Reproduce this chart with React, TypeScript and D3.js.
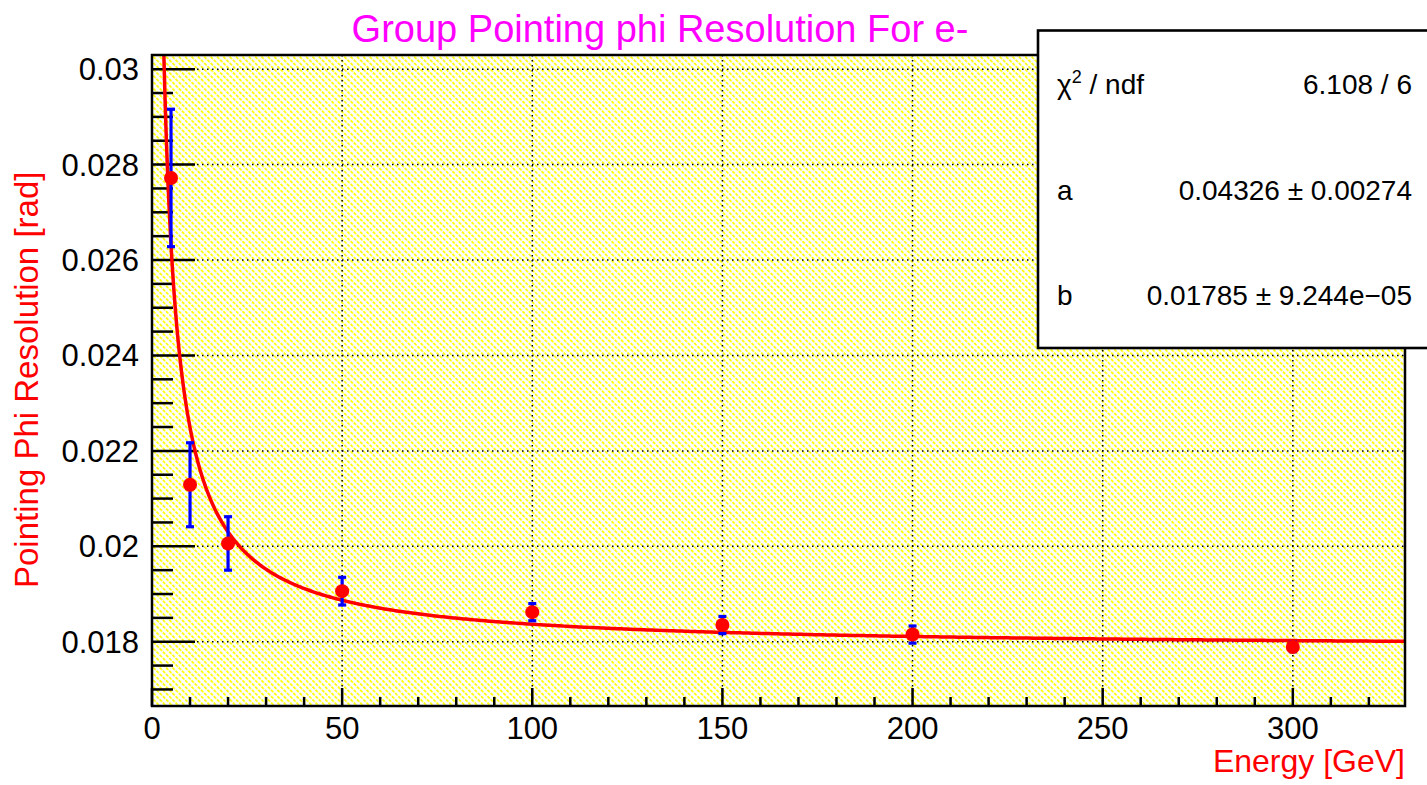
import React from "react";
import * as d3 from "d3";

// Measured pointing phi resolution for electrons vs beam energy
const energies = [5, 10, 20, 50, 100, 150, 200, 300];
const resolution = [0.02772, 0.02129, 0.02006, 0.01906, 0.01862, 0.01835, 0.01815, 0.01789];
const resolutionErr = [0.00144, 0.00088, 0.00056, 0.00029, 0.00018, 0.00018, 0.00018, 0.0001];

// Fit sigma(E) = sqrt(a^2/E + b^2)
const fitA = 0.04326;
const fitB = 0.01785;
const statRows = [
  { label: "chi2", value: "6.108 / 6" },
  { label: "a", value: "0.04326 \u00b1 0.00274" },
  { label: "b", value: "0.01785 \u00b1 9.244e\u221205" },
];

const xTickValues = [0, 50, 100, 150, 200, 250, 300];
const yTickValues = [0.018, 0.02, 0.022, 0.024, 0.026, 0.028, 0.03];
const yTickLabels = ["0.018", "0.02", "0.022", "0.024", "0.026", "0.028", "0.03"];

const W = 1427;
const H = 785;
const frame = { left: 152, right: 1405, top: 55, bottom: 706 };
const FONT = "'Liberation Sans', Arial, Helvetica, sans-serif";

export default function App() {
  // x range as the graph auto-range: 10% padding past the last point, floored at 0
  const xMin = d3.min(energies)!;
  const xMax = d3.max(energies)!;
  const xPad = 0.1 * (xMax - xMin);
  const xScale = d3
    .scaleLinear()
    .domain([Math.max(0, xMin - xPad), xMax + xPad])
    .range([frame.left, frame.right]);

  const lo = d3.min(resolution.map((v, i) => v - resolutionErr[i]))!;
  const hi = d3.max(resolution.map((v, i) => v + resolutionErr[i]))!;
  const yPad = 0.1 * (hi - lo);
  const yScale = d3
    .scaleLinear()
    .domain([lo - yPad, hi + yPad])
    .range([frame.bottom, frame.top]);

  const [, x1] = xScale.domain();
  const [y0, y1] = yScale.domain();

  const xMinor = d3.range(0, x1, 10).filter((v) => v % 50 !== 0);
  const yMinor = d3
    .range(0.0165, 0.031, 0.0005)
    .filter((v) => v >= y0 && v <= y1 && yTickValues.every((t) => Math.abs(t - v) > 1e-7));

  const fit = (e: number) => Math.sqrt((fitA * fitA) / e + fitB * fitB);
  const samples = d3.range(0, 600).map((i) => {
    const t = i / 599;
    return 0.6 + (x1 - 0.6) * Math.pow(t, 2);
  });
  const curve = d3
    .line<number>()
    .x((e) => xScale(e))
    .y((e) => yScale(fit(e)))(samples);

  const fw = frame.right - frame.left;
  const fh = frame.bottom - frame.top;

  return (
    <div style={{ position: "absolute", left: 0, top: 0 }}>
      <svg width={W} height={H} style={{ display: "block", background: "#fff" }}>
        <defs>
          <pattern
            id="hatch"
            width="4.5"
            height="4.5"
            patternUnits="userSpaceOnUse"
            patternTransform="rotate(-45)"
          >
            <rect width="4.5" height="4.5" fill="#ffffff" />
            <rect width="1.7" height="3.2" fill="#ffff00" />
          </pattern>
          <clipPath id="plotClip">
            <rect x={frame.left} y={frame.top} width={fw} height={fh} />
          </clipPath>
        </defs>

        {/* plot area */}
        <rect x={frame.left} y={frame.top} width={fw} height={fh} fill="url(#hatch)" />

        {/* grid */}
        <g stroke="#000" strokeWidth={1.5} strokeDasharray="1.5 3.5">
          {xTickValues.map((v) => (
            <line key={"gx" + v} x1={xScale(v)} x2={xScale(v)} y1={frame.top} y2={frame.bottom} />
          ))}
          {yTickValues.map((v) => (
            <line key={"gy" + v} x1={frame.left} x2={frame.right} y1={yScale(v)} y2={yScale(v)} />
          ))}
        </g>

        {/* ticks */}
        <g stroke="#000" strokeWidth={2.5}>
          {xTickValues.map((v) => (
            <line key={"tx" + v} x1={xScale(v)} x2={xScale(v)} y1={frame.bottom} y2={frame.bottom - 18} />
          ))}
          {xMinor.map((v) => (
            <line key={"mx" + v} x1={xScale(v)} x2={xScale(v)} y1={frame.bottom} y2={frame.bottom - 9} />
          ))}
          {yTickValues.map((v) => (
            <line key={"ty" + v} x1={frame.left} x2={frame.left + 43} y1={yScale(v)} y2={yScale(v)} />
          ))}
          {yMinor.map((v) => (
            <line key={"my" + v} x1={frame.left} x2={frame.left + 21} y1={yScale(v)} y2={yScale(v)} />
          ))}
        </g>

        {/* fit curve and data */}
        <g clipPath="url(#plotClip)">
          <path d={curve ?? ""} fill="none" stroke="#ff0000" strokeWidth={3.5} />
          {energies.map((e, i) => {
            const cx = xScale(e);
            const yt = yScale(resolution[i] + resolutionErr[i]);
            const yb = yScale(resolution[i] - resolutionErr[i]);
            return (
              <g key={"pt" + e}>
                <line x1={cx} x2={cx} y1={yt} y2={yb} stroke="#0000ff" strokeWidth={3.2} />
                <line x1={cx - 4} x2={cx + 4} y1={yt} y2={yt} stroke="#0000ff" strokeWidth={3.2} />
                <line x1={cx - 4} x2={cx + 4} y1={yb} y2={yb} stroke="#0000ff" strokeWidth={3.2} />
                <circle cx={cx} cy={yScale(resolution[i])} r={7} fill="#ff0000" />
              </g>
            );
          })}
        </g>

        {/* frame */}
        <rect x={frame.left} y={frame.top} width={fw} height={fh} fill="none" stroke="#000" strokeWidth={2.5} />

        {/* tick labels */}
        <g fontFamily={FONT} fontSize={31} fill="#000">
          {xTickValues.map((v) => (
            <text key={"lx" + v} x={xScale(v)} y={739} textAnchor="middle">
              {String(v)}
            </text>
          ))}
          {yTickValues.map((v, i) => (
            <text key={"ly" + v} x={139} y={yScale(v) + 11} textAnchor="end">
              {yTickLabels[i]}
            </text>
          ))}
        </g>

        {/* axis titles */}
        <text x={frame.right} y={772} textAnchor="end" fontFamily={FONT} fontSize={32} fill="#ff0000">
          Energy [GeV]
        </text>
        <text
          transform="translate(37.5,588) rotate(-90)"
          textAnchor="start"
          fontFamily={FONT}
          fontSize={33}
          fill="#ff0000"
        >
          Pointing Phi Resolution [rad]
        </text>

        {/* title */}
        <text x={660} y={42} textAnchor="middle" fontFamily={FONT} fontSize={38} fill="#ff00ff">
          Group Pointing phi Resolution For e-
        </text>

        {/* fit statistics box */}
        <rect x={1038} y={30.5} width={420} height={317.5} fill="#fff" stroke="#000" strokeWidth={2.6} />
        <g fontFamily={FONT} fontSize={28} fill="#000">
          {statRows.map((r, i) => {
            const y = [94, 200, 305][i];
            return (
              <g key={"st" + i}>
                {r.label === "chi2" ? (
                  <text x={1057} y={y}>
                    {"\u03c7"}
                    <tspan dy={-11} fontSize={18}>
                      2
                    </tspan>
                    <tspan dy={11}>{" / ndf"}</tspan>
                  </text>
                ) : (
                  <text x={1057} y={y}>
                    {r.label}
                  </text>
                )}
                <text x={1412} y={y} textAnchor="end">
                  {r.value}
                </text>
              </g>
            );
          })}
        </g>
      </svg>
    </div>
  );
}
